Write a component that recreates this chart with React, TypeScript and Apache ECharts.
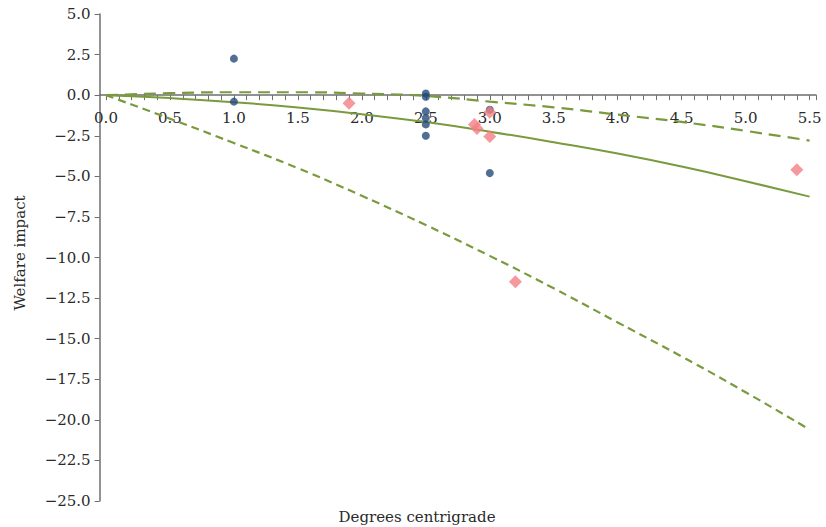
import React, { useEffect, useRef } from "react";
import * as echarts from "echarts";

// Temperature grid for the impact curves (degrees centigrade)
const curveX = [0, 0.5, 1.0, 1.5, 2.0, 2.5, 3.0, 3.5, 4.0, 4.5, 5.0, 5.5];
// Central estimate (solid line)
const centralCurve = [0, -0.18, -0.43, -0.76, -1.17, -1.66, -2.25, -2.9, -3.6, -4.4, -5.3, -6.25];
// Upper bound (long dashes)
const upperCurve = [0, 0.12, 0.18, 0.18, 0.1, -0.05, -0.4, -0.75, -1.2, -1.65, -2.2, -2.8];
// Lower bound (short dashes)
const lowerCurve = [0, -1.45, -2.95, -4.5, -6.2, -8.0, -9.9, -11.9, -14.0, -16.1, -18.3, -20.6];

// Study estimates (blue dots)
const dotX = [1.0, 1.0, 2.5, 2.5, 2.5, 2.5, 2.5, 2.5, 3.0, 3.0];
const dotY = [2.25, -0.4, 0.1, -0.1, -1.0, -1.4, -1.8, -2.5, -0.9, -4.8];
// Study estimates (pink diamonds)
const diamondX = [1.9, 2.88, 2.9, 3.0, 3.0, 3.2, 5.4];
const diamondY = [-0.5, -1.8, -2.05, -1.05, -2.55, -11.5, -4.6];

// Axis ticks / labels
const xLabels = [0, 0.5, 1.0, 1.5, 2.0, 2.5, 3.0, 3.5, 4.0, 4.5, 5.0, 5.5];
const xMinorTicks = [
  0, 0.1, 0.2, 0.3, 0.4, 0.5, 0.6, 0.7, 0.8, 0.9, 1.0, 1.1, 1.2, 1.3, 1.4, 1.5, 1.6, 1.7, 1.8, 1.9,
  2.0, 2.1, 2.2, 2.3, 2.4, 2.5, 2.6, 2.7, 2.8, 2.9, 3.0, 3.1, 3.2, 3.3, 3.4, 3.5, 3.6, 3.7, 3.8, 3.9,
  4.0, 4.1, 4.2, 4.3, 4.4, 4.5, 4.6, 4.7, 4.8, 4.9, 5.0, 5.1, 5.2, 5.3, 5.4, 5.5, 5.55,
];

const FONT = "DejaVu Serif";
const TEXT = "#2a2a2a";
const AXIS = "#6e6e6e";
const GREEN = "#7a9a3e";
const NAVY = "#264a78";
const PINK = "#f27f86";

const GRID_TOP = 14;
const GRID_BOTTOM = 26;
const CHART_H = 527;
const Y_MIN = -25;
const Y_MAX = 5;

const fmt = (v: number) => (v < 0 ? "\u2212" + Math.abs(v).toFixed(1) : v.toFixed(1));

export default function App() {
  const ref = useRef<HTMLDivElement>(null);

  useEffect(() => {
    if (!ref.current) return;
    const chart = echarts.init(ref.current, undefined, { renderer: "svg" });
    const pairs = (xs: number[], ys: number[]) => xs.map((x, i) => [x, ys[i]]);

    // place the x axis on y = 0 (the axis crossing)
    const plotH = CHART_H - GRID_TOP - GRID_BOTTOM;
    const zeroFromBottom = (0 - Y_MIN) / (Y_MAX - Y_MIN) * plotH;

    chart.setOption({
      animation: false,
      backgroundColor: "#ffffff",
      grid: { left: 99.6, right: 10, top: GRID_TOP, bottom: GRID_BOTTOM, containLabel: false },
      xAxis: {
        type: "value",
        min: -0.05,
        max: 5.55,
        position: "bottom",
        offset: -zeroFromBottom,
        axisLine: { onZero: false, lineStyle: { color: AXIS, width: 1.5 } },
        axisTick: {
          show: true,
          length: 5,
          customValues: xMinorTicks,
          lineStyle: { color: AXIS, width: 1 },
        },
        axisLabel: {
          customValues: xLabels,
          formatter: (v: number) => fmt(v),
          fontFamily: FONT,
          fontSize: 15,
          color: TEXT,
          margin: 15,
        },
        splitLine: { show: false },
      },
      yAxis: {
        type: "value",
        min: Y_MIN,
        max: Y_MAX,
        interval: 2.5,
        axisLine: { show: true, onZero: false, lineStyle: { color: AXIS, width: 1.5 } },
        axisTick: { show: true, length: 5, lineStyle: { color: AXIS, width: 1 } },
        axisLabel: {
          formatter: (v: number) => fmt(v),
          fontFamily: FONT,
          fontSize: 15,
          color: TEXT,
          margin: 9,
        },
        splitLine: { show: false },
      },
      graphic: [
        {
          type: "text",
          x: 417,
          y: 517,
          style: {
            text: "Degrees centrigrade",
            fontFamily: FONT,
            fontSize: 15,
            fill: TEXT,
            align: "center",
            verticalAlign: "middle",
          },
        },
        {
          type: "text",
          x: 20,
          y: 253,
          rotation: Math.PI / 2,
          style: {
            text: "Welfare impact",
            fontFamily: FONT,
            fontSize: 15,
            fill: TEXT,
            align: "center",
            verticalAlign: "middle",
          },
        },
      ],
      series: [
        {
          type: "line",
          data: pairs(curveX, lowerCurve),
          showSymbol: false,
          smooth: true,
          lineStyle: { color: GREEN, width: 2.2, type: [8, 5] },
          z: 2,
        },
        {
          type: "line",
          data: pairs(curveX, upperCurve),
          showSymbol: false,
          smooth: true,
          lineStyle: { color: GREEN, width: 2.2, type: [12, 7] },
          z: 2,
        },
        {
          type: "line",
          data: pairs(curveX, centralCurve),
          showSymbol: false,
          smooth: true,
          lineStyle: { color: GREEN, width: 2, type: "solid" },
          z: 2,
        },
        {
          type: "scatter",
          data: pairs(dotX, dotY),
          symbol: "circle",
          symbolSize: 8,
          itemStyle: { color: NAVY },
          z: 3,
        },
        {
          type: "scatter",
          data: pairs(diamondX, diamondY),
          symbol: "diamond",
          symbolSize: 13,
          itemStyle: { color: PINK },
          z: 4,
        },
      ],
    });
    return () => chart.dispose();
  }, []);

  return (
    <div
      ref={ref}
      style={{ position: "fixed", left: 0, top: 0, width: 826, height: 527 }}
    />
  );
}
